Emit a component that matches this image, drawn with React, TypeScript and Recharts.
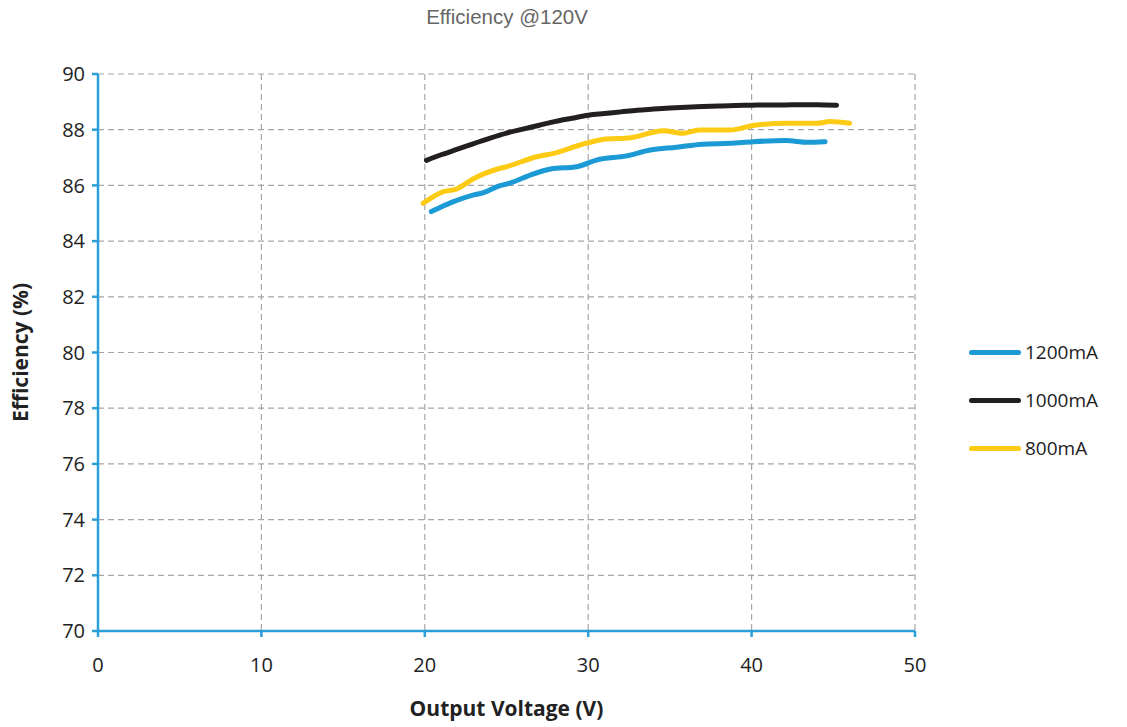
import {
  LineChart,
  Line,
  XAxis,
  YAxis,
  CartesianGrid,
  Legend,
} from 'recharts';

const X_TICKS = [0, 10, 20, 30, 40, 50];
const Y_TICKS = [70, 72, 74, 76, 78, 80, 82, 84, 86, 88, 90];

const SERIES_1200 = [
  { v: 20.4, e: 85.06 }, { v: 21.75, e: 85.42 }, { v: 23.0, e: 85.66 }, { v: 23.6, e: 85.74 },
  { v: 24.6, e: 85.99 }, { v: 25.2, e: 86.08 }, { v: 26.45, e: 86.37 }, { v: 27.7, e: 86.59 },
  { v: 29.3, e: 86.67 }, { v: 30.5, e: 86.91 }, { v: 32.35, e: 87.06 }, { v: 33.8, e: 87.27 },
  { v: 35.4, e: 87.37 }, { v: 37.0, e: 87.48 }, { v: 38.7, e: 87.51 }, { v: 40.1, e: 87.57 },
  { v: 42.1, e: 87.61 }, { v: 43.4, e: 87.55 }, { v: 44.5, e: 87.57 },
];

const SERIES_1000 = [
  { v: 20.1, e: 86.9 }, { v: 21, e: 87.1 }, { v: 22, e: 87.3 }, { v: 23, e: 87.5 },
  { v: 24, e: 87.7 }, { v: 25, e: 87.88 }, { v: 26, e: 88.02 }, { v: 27, e: 88.16 },
  { v: 28, e: 88.3 }, { v: 29, e: 88.41 }, { v: 30, e: 88.52 }, { v: 31, e: 88.58 },
  { v: 32, e: 88.64 }, { v: 33, e: 88.7 }, { v: 34, e: 88.74 }, { v: 35, e: 88.78 },
  { v: 36, e: 88.81 }, { v: 37, e: 88.83 }, { v: 38, e: 88.85 }, { v: 39, e: 88.87 },
  { v: 40, e: 88.88 }, { v: 41, e: 88.89 }, { v: 42, e: 88.89 }, { v: 43, e: 88.9 },
  { v: 44, e: 88.9 }, { v: 45.2, e: 88.88 },
];

const SERIES_800 = [
  { v: 19.9, e: 85.36 }, { v: 21.1, e: 85.77 }, { v: 21.95, e: 85.87 }, { v: 23.0, e: 86.25 },
  { v: 24.4, e: 86.58 }, { v: 25.0, e: 86.67 }, { v: 26.85, e: 87.03 }, { v: 27.9, e: 87.15 },
  { v: 29.5, e: 87.45 }, { v: 30.9, e: 87.65 }, { v: 32.6, e: 87.71 }, { v: 34.6, e: 87.96 },
  { v: 35.8, e: 87.87 }, { v: 36.8, e: 87.99 }, { v: 38.7, e: 87.99 }, { v: 40.1, e: 88.15 },
  { v: 42.1, e: 88.23 }, { v: 43.98, e: 88.23 }, { v: 44.8, e: 88.29 }, { v: 46.0, e: 88.23 },
];

const SERIES = [
  { name: '1200mA', data: SERIES_1200, color: '#1b9ad6' },
  { name: '1000mA', data: SERIES_1000, color: '#231f20' },
  { name: '800mA', data: SERIES_800, color: '#fdcb14' },
];

const AXIS_COLOR = '#2a9fd8';
const FONT = '"Open Sans", "Noto Sans", sans-serif';

function LegendBox() {
  return (
    <div style={{ fontFamily: FONT, fontSize: 19, color: '#222' }}>
      {SERIES.map((s) => (
        <div key={s.name} style={{ display: 'flex', alignItems: 'center', height: 48 }}>
          <div style={{ width: 52, height: 5, borderRadius: 3, background: s.color, marginRight: 4 }} />
          <span>{s.name}</span>
        </div>
      ))}
    </div>
  );
}

export default function App() {
  return (
    <div style={{ position: 'absolute', left: 0, top: 0, width: 1127, height: 727, background: '#fff' }}>
      <div
        style={{
          position: 'absolute',
          top: 5,
          left: 0,
          width: 1014,
          textAlign: 'center',
          fontFamily: '"Liberation Sans", Arial, sans-serif',
          fontSize: 20.5,
          color: '#666',
        }}
      >
        Efficiency @120V
      </div>
      <LineChart width={1127} height={727} margin={{ top: 74, right: 212, bottom: 66, left: 38 }}>
        <CartesianGrid
          stroke="#a6a6a6"
          strokeDasharray="6 4"
          strokeWidth={1.2}
          horizontalValues={Y_TICKS}
          verticalValues={X_TICKS}
        />
        <XAxis
          type="number"
          dataKey="v"
          domain={[0, 50]}
          ticks={X_TICKS}
          allowDataOverflow
          stroke={AXIS_COLOR}
          strokeWidth={2.5}
          tickSize={6}
          tickMargin={21}
          height={30}
          tick={{ fontSize: 20, fill: '#222', fontFamily: FONT }}
          label={{
            value: 'Output Voltage (V)',
            position: 'insideBottom',
            offset: -55,
            style: { fontSize: 21, fontWeight: 700, fill: '#222', fontFamily: FONT },
          }}
        />
        <YAxis
          type="number"
          dataKey="e"
          domain={[70, 90]}
          ticks={Y_TICKS}
          allowDataOverflow
          width={60}
          stroke={AXIS_COLOR}
          strokeWidth={2.5}
          tickSize={6}
          tickMargin={7}
          tick={{ fontSize: 20, fill: '#222', fontFamily: FONT }}
          label={{
            value: 'Efficiency (%)',
            angle: -90,
            position: 'center',
            dx: -47,
            style: { fontSize: 21, fontWeight: 700, fill: '#222', fontFamily: FONT, textAnchor: 'middle' },
          }}
        />
        <Legend
          layout="horizontal"
          align="center"
          verticalAlign="middle"
          content={() => <LegendBox />}
          wrapperStyle={{ left: 969, top: 328, width: 150 }}
        />
        {SERIES.map((s) => (
          <Line
            key={s.name}
            data={s.data}
            dataKey="e"
            name={s.name}
            type="monotone"
            stroke={s.color}
            strokeWidth={5}
            strokeLinecap="round"
            dot={false}
            activeDot={false}
            isAnimationActive={false}
          />
        ))}
      </LineChart>
    </div>
  );
}
